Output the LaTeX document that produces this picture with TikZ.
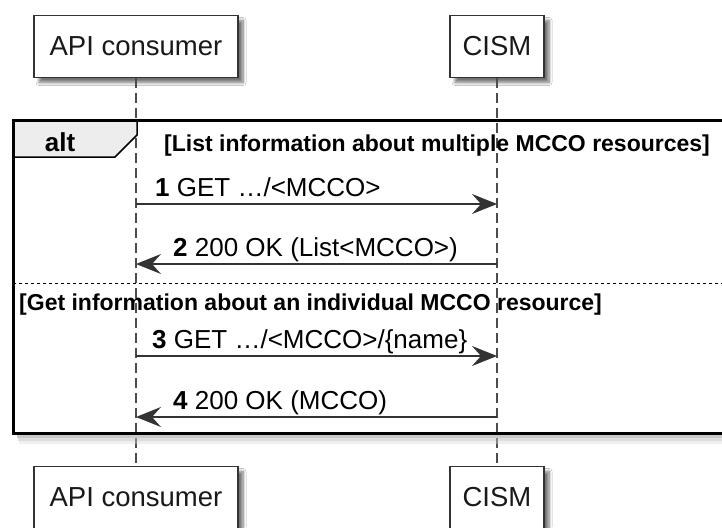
\documentclass[tikz,border=0pt]{standalone}
\usepackage{fontspec}
\setmainfont{Liberation Sans}
\usetikzlibrary{arrows.meta,shadows.blur}
\begin{document}
\begin{tikzpicture}[x=1pt,y=-1pt,
  part/.style={draw=black!80, line width=1.5pt, fill=white, minimum height=62pt, inner sep=0pt,
    font=\fontsize{27.5}{33}\selectfont, text=black!90,
    blur shadow={shadow xshift=5pt,shadow yshift=-5pt,shadow blur steps=8,shadow blur radius=3pt,shadow opacity=55}},
  lifeline/.style={draw=black!70, line width=1.2pt, dash pattern=on 10pt off 5pt},
  msg/.style={draw=black!80, line width=1.4pt, -{Stealth[length=25pt,width=20pt,inset=9pt]}},
  lbl/.style={anchor=base west, inner sep=0pt, font=\fontsize{26}{31}\selectfont},
  guard/.style={anchor=base west, inner sep=0pt, font=\fontsize{23}{28}\selectfont\bfseries},
]
\useasboundingbox (0,0) rectangle (722,527);
\clip (0,0) rectangle (722,527);
\fill[white] (0,0) rectangle (722,527);

% participants
\node[part, minimum width=204pt] (apiT) at (136,46.5) {API consumer};
\node[part, minimum width=94pt] (cismT) at (497,46.5) {CISM};
\node[part, minimum width=204pt] (apiB) at (136,497.5) {API consumer};
\node[part, minimum width=94pt] (cismB) at (497,497.5) {CISM};

% lifelines
\draw[lifeline] (apiT.south) -- (apiB.north);
\draw[lifeline] (cismT.south) -- (cismB.north);

% alt frame shadow
\fill[black!35, opacity=0.6] (17,435) rectangle (745,438);
\fill[black!25, opacity=0.5] (18,438) rectangle (745,441);
\fill[black!15, opacity=0.4] (19,441) rectangle (745,444);
% tab
\draw[line width=1.5pt, fill=black!7] (13,120) -- (137,120) -- (137,135) -- (115,157) -- (13,157);
\draw[line width=3pt] (13,120) rectangle (745,433);
\node[anchor=base, inner sep=0pt, font=\fontsize{26}{31}\selectfont\bfseries] (alt) at (60,151) {alt};
\node[guard] (g1) at (164,151) {[List information about multiple MCCO resources]};
\draw[line width=1pt, dash pattern=on 3pt off 3pt] (13,283) -- (722,283);
\node[guard] (g2) at (19,310) {[Get information about an individual MCCO resource]};

% message anchor points on the lifelines
\coordinate (a1) at (apiT.center |- 0,204);
\coordinate (c1) at (cismT.center |- 0,204);
\coordinate (a2) at (apiT.center |- 0,264);
\coordinate (c2) at (cismT.center |- 0,264);
\coordinate (a3) at (apiT.center |- 0,356);
\coordinate (c3) at (cismT.center |- 0,356);
\coordinate (a4) at (apiT.center |- 0,417);
\coordinate (c4) at (cismT.center |- 0,417);

\draw[msg] (a1) -- (c1);
\draw[msg] (c2) -- (a2);
\draw[msg] (a3) -- (c3);
\draw[msg] (c4) -- (a4);

\node[lbl] (l1) at (155,196) {\textbf{1} GET …/<MCCO>};
\node[lbl] (l2) at (173,256) {\textbf{2} 200 OK (List<MCCO>)};
\node[lbl] (l3) at (152,348) {\textbf{3} GET …/<MCCO>/\{name\}};
\node[lbl] (l4) at (173,409) {\textbf{4} 200 OK (MCCO)};
\end{tikzpicture}
\end{document}
